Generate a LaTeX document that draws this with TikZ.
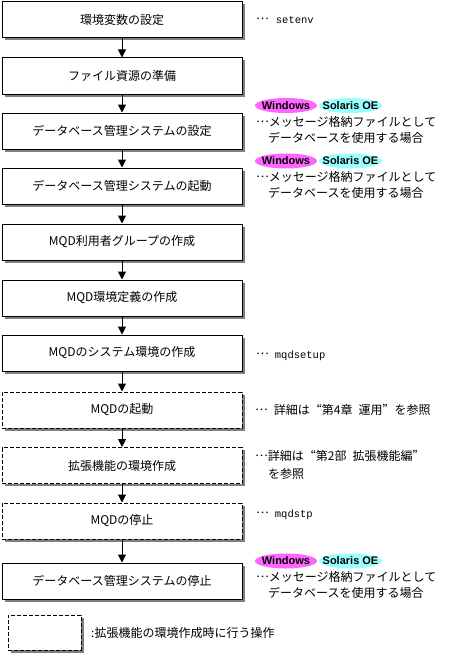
\documentclass[tikz,border=0pt]{standalone}
\usepackage{fontspec}
\setmainfont{Noto Sans CJK JP}
\newfontfamily\fwfont[RawFeature=+fwid]{Noto Sans CJK JP}
\newfontfamily\badgefont{Liberation Sans}
\newfontfamily\mymono{Liberation Mono}
\usetikzlibrary{arrows.meta,shadows}
\definecolor{winpink}{RGB}{255,102,255}
\definecolor{solcyan}{RGB}{153,255,255}
\definecolor{shadowgray}{RGB}{128,128,128}
\newcommand\dotsj{\raisebox{4pt}{\fwfont …}}
\newcommand\jlq{{\fwfont “}}
\newcommand\jrq{{\fwfont ”}}
\newcommand\cmd[1]{{\mymono\fontsize{10.5}{12}\selectfont #1}}
\tikzset{
  stepbox/.style={draw=black, line width=1pt, fill=white, minimum width=240pt,
    minimum height=36pt, inner sep=0pt, font=\fontsize{12}{14}\selectfont,
    general shadow={fill=shadowgray, shadow xshift=2.5pt, shadow yshift=-2.5pt}},
  optbox/.style={stepbox, dash pattern=on 4pt off 2pt},
  flow/.style={line width=1pt, -{Triangle[width=8pt,length=8pt]}},
  annot/.style={anchor=west, inner sep=0pt, font=\fontsize{12}{14}\selectfont,
    text height=10.5pt, text depth=1.5pt},
  badgetext/.style={inner sep=0pt, font=\badgefont\bfseries\fontsize{11}{12}\selectfont},
}
\newcommand\osbadges[2]{%
  \fill[winpink] (286,#1) ellipse [x radius=31pt, y radius=7.5pt];
  \fill[solcyan] (350.5,#1) ellipse [x radius=31.5pt, y radius=7.5pt];
  \node[badgetext] (win#2) at (286,#1) {Windows};
  \node[badgetext] (sol#2) at (350.5,#1) {Solaris OE};
}
\begin{document}
\begin{tikzpicture}[x=1pt,y=-1pt]
\useasboundingbox (0,0) rectangle (470,661);
% boxes
\node[stepbox] (b1) at (122,20) {環境変数の設定};
\node[stepbox] (b2) at (122,76) {ファイル資源の準備};
\node[stepbox] (b3) at (122,131) {データベース管理システムの設定};
\node[stepbox] (b4) at (122,186) {データベース管理システムの起動};
\node[stepbox] (b5) at (122,242) {MQD利用者グループの作成};
\node[stepbox] (b6) at (122,298) {MQD環境定義の作成};
\node[stepbox] (b7) at (122,353) {MQDのシステム環境の作成};
\node[optbox] (b8) at (122,410) {MQDの起動};
\node[optbox] (b9) at (122,465.5) {拡張機能の環境作成};
\node[optbox] (b10) at (122,521) {MQDの停止};
\node[stepbox] (b11) at (122,581) {データベース管理システムの停止};
% arrows
\draw[flow] (b1.south) -- (b2.north);
\draw[flow] (b2.south) -- (b3.north);
\draw[flow] (b3.south) -- (b4.north);
\draw[flow] (b4.south) -- (b5.north);
\draw[flow] (b5.south) -- (b6.north);
\draw[flow] (b6.south) -- (b7.north);
\draw[flow] (b7.south) -- (b8.north);
\draw[flow] (b8.south) -- (b9.north);
\draw[flow] (b9.south) -- (b10.north);
\draw[flow] (b10.south) -- (b11.north);
% annotations
\node[annot] (a1) at (256,19) {\dotsj\hspace{7pt}\cmd{setenv}};
\osbadges{105.5}{1}
\node[annot] (a3a) at (256,122) {\dotsj メッセージ格納ファイルとして};
\node[annot] (a3b) at (268,138) {データベースを使用する場合};
\osbadges{161}{2}
\node[annot] (a4a) at (256,177) {\dotsj メッセージ格納ファイルとして};
\node[annot] (a4b) at (268,193) {データベースを使用する場合};
\node[annot] (a7) at (256,354) {\dotsj\hspace{6pt}\cmd{mqdsetup}};
\node[annot] (a8) at (255,410) {\dotsj\hspace{6pt}詳細は\jlq 第4章\hspace{6pt}運用\jrq を参照};
\node[annot] (a9a) at (255,456) {\dotsj 詳細は\jlq 第2部\hspace{6pt}拡張機能編\jrq};
\node[annot] (a9b) at (268,474) {を参照};
\node[annot] (a10) at (256,513) {\dotsj\hspace{6pt}\cmd{mqdstp}};
\osbadges{561}{3}
\node[annot] (a11a) at (256,577) {\dotsj メッセージ格納ファイルとして};
\node[annot] (a11b) at (268,593) {データベースを使用する場合};
% legend
\node[optbox, minimum width=73pt, minimum height=35pt] (leg) at (44.5,632.5) {};
\node[annot] (legtext) at (91,633) {:拡張機能の環境作成時に行う操作};
\end{tikzpicture}
\end{document}
